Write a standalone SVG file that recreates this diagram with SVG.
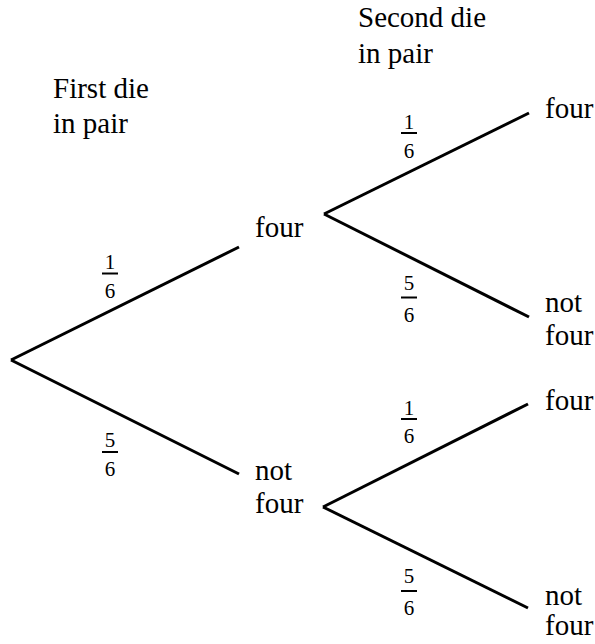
<svg xmlns="http://www.w3.org/2000/svg" width="595" height="644" viewBox="0 0 595 644">
<style>
.lbl{font-size:29px}
.fr{font-size:21px;text-anchor:middle}
.edge{stroke:#000;stroke-width:3;fill:none;stroke-linecap:butt}
.bar{stroke:#000;stroke-width:2}
</style>
<rect width="595" height="644" fill="#fff"/>
<g id="connectors">
<line class="edge" x1="11" y1="360" x2="239" y2="247"/>
<line class="edge" x1="11" y1="360" x2="239" y2="474"/>
<line class="edge" x1="324" y1="214" x2="529" y2="113"/>
<line class="edge" x1="324" y1="214" x2="529" y2="317"/>
<line class="edge" x1="323" y1="507" x2="528" y2="404"/>
<line class="edge" x1="323" y1="507" x2="528" y2="608"/>
</g>
<g font-family="Liberation Serif, Times New Roman, DejaVu Serif, serif" fill="#000">
<g id="header-first"><text class="lbl" x="53" y="98">First die</text><text class="lbl" x="53" y="133">in pair</text></g>
<g id="header-second"><text class="lbl" x="358" y="27">Second die</text><text class="lbl" x="358" y="63">in pair</text></g>
<g id="n-four"><text class="lbl" x="255" y="237">four</text></g>
<g id="n-notfour"><text class="lbl" x="255" y="480">not</text><text class="lbl" x="255" y="513">four</text></g>
<g id="n-four-four"><text class="lbl" x="545" y="118">four</text></g>
<g id="n-four-notfour"><text class="lbl" x="545" y="312">not</text><text class="lbl" x="545" y="345">four</text></g>
<g id="n-notfour-four"><text class="lbl" x="545" y="410">four</text></g>
<g id="n-notfour-notfour"><text class="lbl" x="545" y="605">not</text><text class="lbl" x="545" y="635">four</text></g>
<g id="p1"><text class="fr" x="110" y="269">1</text><line class="bar" x1="102" y1="273.5" x2="118" y2="273.5"/><text class="fr" x="110" y="298">6</text></g>
<g id="p2"><text class="fr" x="110" y="447">5</text><line class="bar" x1="102" y1="452" x2="118" y2="452"/><text class="fr" x="110" y="476">6</text></g>
<g id="p3"><text class="fr" x="409" y="129">1</text><line class="bar" x1="401" y1="133" x2="417" y2="133"/><text class="fr" x="409" y="158">6</text></g>
<g id="p4"><text class="fr" x="409" y="290">5</text><line class="bar" x1="401" y1="297.5" x2="417" y2="297.5"/><text class="fr" x="409" y="322">6</text></g>
<g id="p5"><text class="fr" x="409" y="415">1</text><line class="bar" x1="401" y1="419" x2="417" y2="419"/><text class="fr" x="409" y="443">6</text></g>
<g id="p6"><text class="fr" x="409" y="583">5</text><line class="bar" x1="401" y1="591" x2="417" y2="591"/><text class="fr" x="409" y="615">6</text></g>
</g>
</svg>
